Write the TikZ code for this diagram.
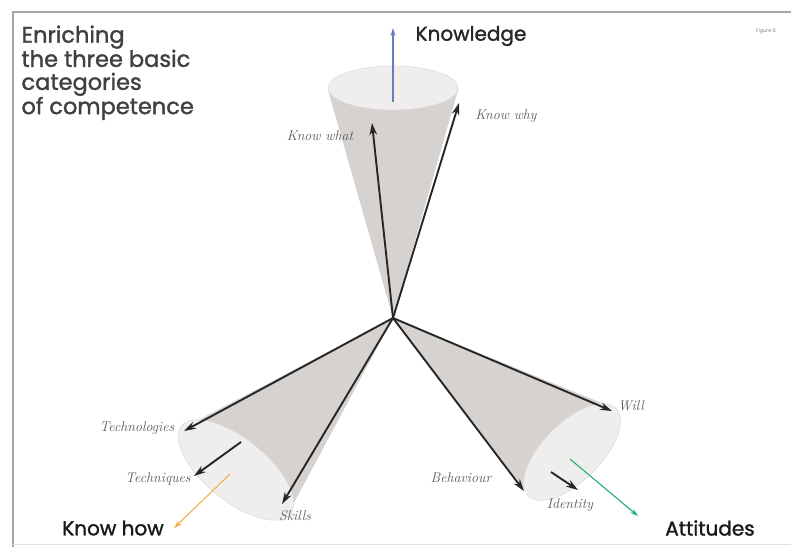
\documentclass[tikz,border=0pt]{standalone}
\usepackage{fontspec}
\setsansfont{Poppins}
\newfontfamily\headfont[FakeBold=1.4]{Poppins}
\usetikzlibrary{arrows.meta, positioning}
\definecolor{conegray}{RGB}{214,210,208}
\definecolor{rimgray}{RGB}{240,238,237}
\definecolor{knowblue}{RGB}{105,125,190}
\definecolor{howorange}{RGB}{240,175,80}
\definecolor{attgreen}{RGB}{30,175,115}
\tikzset{
  cone/.style={fill=conegray, draw=none},
  rim/.style={fill=rimgray, draw=gray!30, line width=0.5pt},
  vec/.style={line width=1.9pt, black!85, -{Stealth[length=12pt,width=7.5pt]}},
  axisvec/.style={line width=1.1pt, -{Stealth[length=8pt,width=5pt]}},
  small/.style={font=\rmfamily\itshape\fontsize{14}{16}\selectfont, text=black!65},
  head/.style={font=\headfont\fontsize{20}{22}\selectfont, text=black!85},
}

\begin{document}
\begin{tikzpicture}[x=1pt, y=-1pt]
  \useasboundingbox (0,0) rectangle (791,547);
  % Frame
  \draw[gray!70, line width=1.6pt] (13,547) -- (13,12) -- (791,12);
  \draw[gray!25, line width=0.8pt] (13,544) -- (791,544);
  % Title
  \node[anchor=north west, align=left, text=black!75,
        font=\headfont\fontsize{22.5}{23}\selectfont] (title) at (18,22)
       {Enriching\\the three basic\\categories\\of competence};
  \node[font=\sffamily\fontsize{5}{6}\selectfont, text=black!50] (fig) at (766,31) {Figure 6};
  \coordinate (O) at (393,318);
  % Knowledge cone
  \fill[cone] (O) -- (328,90) -- (458,90) -- cycle;
  \draw[rim] (393,88) ellipse (65 and 22);
  \coordinate (kTop) at (393,102);
  \coordinate (kEnd) at (393,28);
  \draw[axisvec, knowblue] (kTop) -- (kEnd);
  \coordinate (kWhat) at (372,123);
  \coordinate (kWhy) at (459,103);
  \draw[vec] (O) -- (kWhat);
  \draw[vec] (O) -- (kWhy);
  \node[head] (lKnow) at (471,36) {Knowledge};
  \node[small] (lWhat) at (320,136) {Know what};
  \node[small] (lWhy) at (506,116) {Know why};
  % Know how cone
  \fill[cone] (O) -- (183,428) -- (289,512) -- cycle;
  \draw[rim, shift={(236,470)}, rotate=-39] (0,0) ellipse (70 and 31);
  \coordinate (hMid) at (230,474);
  \coordinate (hEnd) at (174,528);
  \draw[axisvec, howorange] (hMid) -- (hEnd);
  \coordinate (hTech) at (184,431);
  \coordinate (hTqIn) at (241,442);
  \coordinate (hTq) at (194,476);
  \coordinate (hSkill) at (282,504);
  \draw[vec] (O) -- (hTech);
  \draw[vec] (hTqIn) -- (hTq);
  \draw[vec] (O) -- (hSkill);
  \node[small] (lTech) at (137,428) {Technologies};
  \node[small] (lTq) at (158,479) {Techniques};
  \node[small] (lSkill) at (295,516) {Skills};
  \node[head, text=black!90] (lHow) at (113,528) {Know how};
  % Attitudes cone
  \fill[cone] (O) -- (614,408) -- (527,493) -- cycle;
  \draw[rim, shift={(572,452)}, rotate=45] (0,0) ellipse (62 and 29);
  \coordinate (aMid) at (570,459);
  \coordinate (aEnd) at (638,516);
  \draw[axisvec, attgreen] (aMid) -- (aEnd);
  \coordinate (aWill) at (612,411);
  \coordinate (aIdIn) at (551,472);
  \coordinate (aId) at (578,490);
  \coordinate (aBeh) at (524,491);
  \draw[vec] (O) -- (aWill);
  \draw[vec] (aIdIn) -- (aId);
  \draw[vec] (O) -- (aBeh);
  \node[small] (lWill) at (631,406) {Will};
  \node[small] (lBeh) at (461,478) {Behaviour};
  \node[small] (lId) at (570,505) {Identity};
  \node[head, text=black!90] (lAtt) at (710,528) {Attitudes};
\end{tikzpicture}
\end{document}
